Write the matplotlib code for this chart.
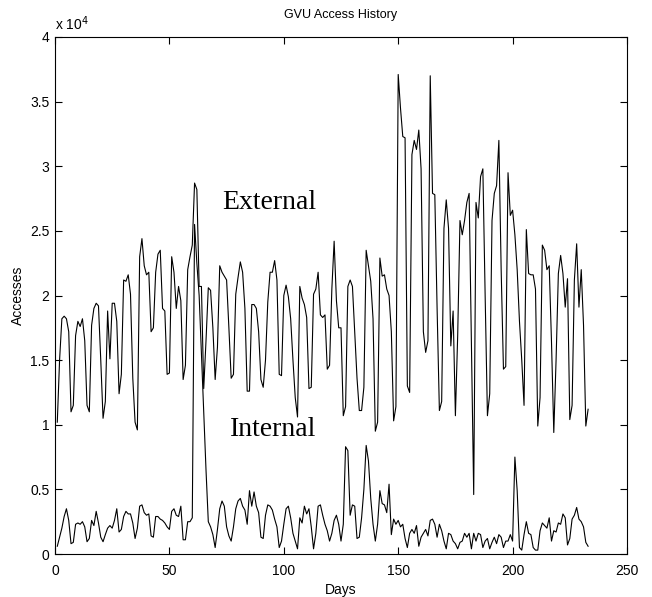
import numpy as np
import matplotlib
matplotlib.use("Agg")
import matplotlib.pyplot as plt
from matplotlib.ticker import FuncFormatter

# daily accesses, in thousands
external_k = [
    10.2, 15.0, 18.2, 18.4, 18.2, 17.2, 11.0, 11.5, 16.9, 18.0,
    17.6, 18.2, 16.5, 11.5, 11.0, 17.7, 19.0, 19.4, 19.2, 15.0,
    10.5, 11.8, 18.8, 15.1, 19.4, 19.4, 18.0, 12.4, 13.9, 21.2,
    21.1, 21.6, 20.1, 13.6, 10.2, 9.6, 23.0, 24.4, 22.3, 21.6,
    21.8, 17.2, 17.5, 21.8, 23.2, 23.5, 19.0, 18.8, 13.9, 14.0,
    23.0, 21.8, 19.0, 20.7, 19.6, 13.5, 14.6, 22.0, 23.0, 23.9,
    28.7, 28.2, 20.7, 20.7, 12.8, 16.5, 20.6, 20.4, 17.5, 13.5,
    16.0, 22.3, 21.8, 21.5, 21.2, 17.5, 13.6, 13.9, 20.1, 21.4,
    22.6, 21.8, 19.0, 12.6, 12.6, 19.3, 19.3, 19.0, 17.2, 13.5,
    12.9, 15.0, 19.5, 21.8, 21.8, 22.7, 21.2, 13.9, 13.8, 20.0,
    20.8, 19.9, 18.2, 15.0, 12.1, 10.6, 20.7, 19.8, 19.3, 18.3,
    12.8, 12.9, 20.1, 20.5, 21.8, 18.5, 18.3, 18.5, 14.3, 14.6,
    20.5, 24.2, 19.6, 17.5, 17.5, 10.7, 11.4, 20.7, 21.2, 20.7,
    17.2, 13.6, 11.1, 11.1, 12.9, 23.5, 22.3, 21.1, 18.2, 9.5,
    10.2, 22.9, 21.5, 21.6, 20.5, 20.0, 17.2, 10.3, 11.4, 37.1,
    34.5, 32.3, 32.2, 13.0, 12.5, 30.9, 32.0, 31.3, 32.8, 29.8,
    17.2, 15.6, 16.5, 37.0, 27.9, 27.8, 19.0, 11.1, 11.8, 25.2,
    27.4, 25.2, 16.1, 18.8, 10.7, 16.9, 25.8, 24.7, 25.8, 27.2,
    27.9, 16.0, 4.6, 27.2, 26.0, 29.2, 29.8, 20.0, 10.7, 12.4,
    25.8, 27.9, 28.5, 32.0, 22.0, 14.3, 14.5, 29.5, 26.2, 26.6,
    24.7, 22.0, 18.0, 15.0, 11.5, 25.1, 21.7, 21.6, 21.6, 20.5,
    9.9, 12.1, 23.9, 23.5, 22.0, 22.3, 16.4, 9.4, 15.0, 21.7,
    23.1, 21.7, 19.1, 21.3, 10.4, 11.5, 21.2, 24.0, 19.1, 22.0,
    17.7, 9.9, 11.2,
]

internal_k = [
    0.6, 1.3, 2.0, 2.9, 3.5, 2.6, 0.8, 0.9, 2.3, 2.4,
    2.3, 2.5, 2.1, 0.95, 1.2, 2.6, 2.2, 3.3, 2.4, 1.3,
    0.95, 1.5, 2.0, 2.2, 2.0, 2.6, 3.5, 1.7, 1.9, 2.9,
    3.3, 3.1, 3.1, 2.4, 1.2, 2.0, 3.7, 3.8, 3.2, 3.0,
    3.1, 1.4, 1.3, 2.9, 2.9, 2.7, 2.6, 2.4, 2.1, 1.9,
    3.3, 3.5, 3.0, 2.9, 3.7, 1.1, 1.1, 2.5, 2.5, 2.8,
    25.5, 22.5, 20.0, 15.5, 11.0, 6.5, 2.5, 2.1, 1.5, 0.5,
    1.9, 3.5, 4.1, 3.7, 2.1, 1.4, 1.0, 2.1, 3.5, 4.1,
    4.3, 3.7, 3.4, 2.3, 4.9, 3.7, 4.8, 3.7, 3.2, 1.3,
    1.2, 3.0, 3.8, 3.7, 3.4, 2.7, 2.1, 0.5, 1.0, 2.3,
    3.5, 3.7, 2.8, 1.6, 1.0, 0.4, 2.8, 2.4, 3.7, 3.1,
    3.5, 2.1, 0.4, 1.6, 3.7, 3.8, 3.0, 2.3, 1.8, 1.0,
    1.6, 2.6, 3.0, 2.3, 1.0, 2.3, 8.3, 8.0, 3.0, 3.8,
    3.7, 1.2, 1.3, 2.8, 5.0, 8.4, 7.2, 4.3, 2.3, 1.0,
    2.3, 4.9, 3.9, 3.8, 3.2, 5.4, 1.5, 2.7, 2.3, 2.6,
    2.1, 2.3, 1.2, 0.5, 1.6, 1.9, 1.6, 2.2, 0.6, 1.3,
    1.6, 1.9, 1.4, 2.6, 2.7, 2.3, 1.3, 2.3, 1.8, 1.0,
    0.4, 1.6, 1.5, 1.0, 0.8, 0.4, 0.9, 1.0, 1.6, 1.3,
    1.6, 0.4, 1.6, 1.0, 1.6, 1.5, 0.5, 1.0, 1.2, 0.4,
    0.9, 1.3, 0.8, 1.5, 1.3, 0.5, 1.0, 1.0, 1.5, 1.0,
    7.5, 4.9, 0.5, 0.3, 1.5, 2.5, 1.6, 1.5, 0.5, 0.3,
    0.3, 1.8, 2.4, 2.2, 2.0, 2.8, 1.0, 1.8, 1.7, 2.4,
    2.3, 3.1, 2.8, 0.7, 1.2, 2.7, 3.0, 3.6, 2.7, 2.5,
    2.1, 0.9, 0.6,
]

external = np.array(external_k) * 1000
internal = np.array(internal_k) * 1000
days_ext = np.arange(1, len(external) + 1)
days_int = np.arange(1, len(internal) + 1)

fig = plt.figure(figsize=(6.52, 5.97), dpi=100)
ax = fig.add_axes([55 / 652, 43 / 597, 572 / 652, 517 / 597])

ax.plot(days_ext, external, color="black", linewidth=0.8)
ax.plot(days_int, internal, color="black", linewidth=0.8)

ax.set_xlim(0, 250)
ax.set_ylim(0, 40000)
ax.set_xticks([0, 50, 100, 150, 200, 250])
ax.set_yticks(np.arange(0, 40001, 5000))
ax.yaxis.set_major_formatter(FuncFormatter(lambda v, pos: "%g" % (v / 1e4)))
ax.tick_params(direction="in", top=True, right=True, length=5, width=0.8,
               labelsize=10, pad=4)
ax.tick_params(axis="x", pad=7)
for side in ax.spines.values():
    side.set_linewidth(0.8)
for lab in ax.get_xticklabels() + ax.get_yticklabels():
    lab.set_family("Liberation Sans")

ax.text(0.0, 1.008, r"x 10$^4$", transform=ax.transAxes, fontsize=10,
        family="Liberation Sans", ha="left", va="bottom")
ax.set_title("GVU Access History", fontsize=9, family="Liberation Sans", pad=14)
ax.set_xlabel("Days", fontsize=10, family="Liberation Sans", labelpad=4)
ax.set_ylabel("Accesses", fontsize=10, family="Liberation Sans", labelpad=4)

ax.text(93.5, 27200, "External", fontsize=20, family="Liberation Serif",
        ha="center", va="center")
ax.text(95.5, 9600, "Internal", fontsize=20, family="Liberation Serif",
        ha="center", va="center")

fig.savefig("out.png", dpi=100)
